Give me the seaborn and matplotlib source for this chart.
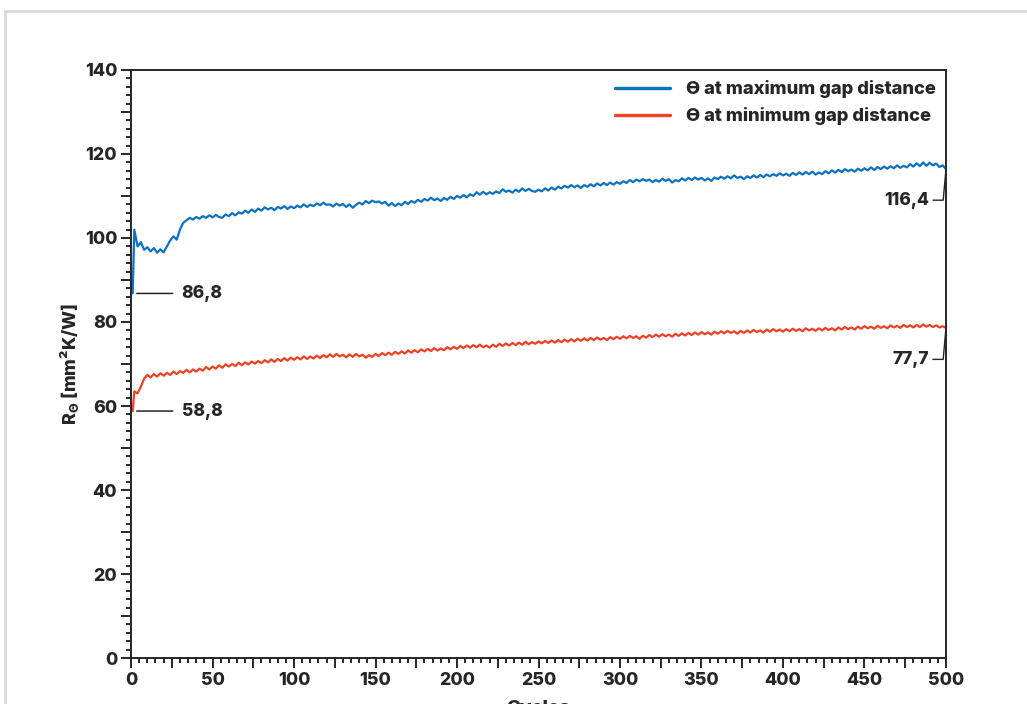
import numpy as np
import pandas as pd
import seaborn as sns
import matplotlib.pyplot as plt
from matplotlib.ticker import MultipleLocator, FuncFormatter
from matplotlib.patches import Rectangle

# cycle numbers: first sample at cycle 1, then every 2 cycles
cycles = [1] + list(range(2, 501, 2))

# thermal resistance at maximum gap distance (mm²K/W)
r_max_gap = [
    86.8,
    102.0, 98.0, 99.0, 97.2, 97.8, 96.8, 97.6, 96.5, 97.3, 96.6,
    98.0, 99.4, 100.4, 99.6, 102.0, 103.6, 104.2, 104.8, 104.4, 105.0,
    104.6, 105.2, 104.8, 105.4, 104.9, 105.5, 105.0, 104.8, 105.6, 105.2,
    105.9, 105.4, 106.1, 105.8, 106.5, 106.0, 106.8, 106.2, 107.0, 106.5,
    107.3, 106.8, 107.2, 106.6, 107.4, 107.0, 107.6, 106.9, 107.5, 107.1,
    107.7, 107.3, 108.0, 107.4, 107.9, 107.6, 108.2, 107.8, 108.4, 107.9,
    108.0, 107.5, 108.2, 107.7, 108.1, 107.4, 108.0, 107.2, 107.9, 108.4,
    108.0, 108.8, 108.3, 108.9, 108.5, 108.7, 108.2, 108.6, 107.7, 108.3,
    107.6, 108.2, 107.8, 108.6, 108.1, 108.8, 108.4, 109.1, 108.6, 109.3,
    108.9, 109.6, 109.0, 109.4, 108.8, 109.5, 109.1, 109.8, 109.3, 110.0,
    109.6, 110.2, 109.7, 110.4, 110.0, 110.9, 110.3, 111.0, 110.4, 110.9,
    110.5, 111.1, 110.7, 111.6, 111.0, 111.3, 110.8, 111.5, 111.0, 111.8,
    111.2, 111.7, 111.2, 111.0, 111.5, 111.1, 111.8, 111.3, 112.0, 111.5,
    112.2, 111.8, 112.4, 112.0, 112.6, 112.1, 112.5, 111.9, 112.6, 112.2,
    112.8, 112.3, 113.0, 112.5, 113.1, 112.6, 113.2, 112.7, 113.3, 112.9,
    113.5, 113.1, 113.8, 113.3, 113.9, 113.5, 114.0, 113.6, 113.9, 113.3,
    113.8, 113.4, 114.1, 113.6, 114.0, 113.2, 113.8, 113.5, 114.2, 113.7,
    114.3, 113.8, 114.4, 113.9, 114.3, 113.7, 114.2, 113.6, 114.4, 114.0,
    114.6, 114.1, 114.7, 114.2, 114.9, 114.3, 114.6, 114.0, 114.7, 114.3,
    114.9, 114.4, 115.0, 114.5, 115.1, 114.7, 115.2, 114.8, 115.4, 114.9,
    115.3, 114.8, 115.5, 115.0, 115.6, 115.1, 115.7, 115.2, 115.8, 115.1,
    115.6, 115.2, 115.9, 115.4, 116.1, 115.6, 116.2, 115.7, 116.4, 115.9,
    116.3, 115.8, 116.5, 116.0, 116.6, 116.1, 116.8, 116.2, 116.9, 116.4,
    117.0, 116.5, 117.1, 116.6, 117.3, 116.7, 117.2, 116.8, 117.6, 117.0,
    117.8, 117.1, 118.0, 117.2, 117.9, 117.3, 117.7, 116.9, 117.3, 116.4,
]

# thermal resistance at minimum gap distance (mm²K/W)
r_min_gap = [
    58.8,
    63.5, 63.0, 64.6, 66.5, 67.4, 66.8, 67.6, 67.0, 67.8, 67.2,
    67.9, 67.4, 68.2, 67.6, 68.3, 67.9, 68.6, 68.0, 68.7, 68.2,
    68.9, 68.4, 69.3, 68.7, 69.4, 68.9, 69.7, 69.1, 69.9, 69.4,
    70.0, 69.5, 70.3, 69.7, 70.4, 69.9, 70.6, 70.1, 70.7, 70.2,
    70.9, 70.4, 71.1, 70.5, 71.2, 70.7, 71.4, 70.8, 71.5, 71.0,
    71.6, 71.1, 71.8, 71.2, 71.8, 71.3, 72.0, 71.4, 72.1, 71.6,
    72.3, 71.7, 72.4, 71.8, 72.2, 71.6, 72.3, 71.7, 72.4, 71.8,
    72.2, 71.5, 72.1, 71.7, 72.4, 71.9, 72.6, 72.1, 72.7, 72.2,
    72.9, 72.4, 73.0, 72.5, 73.2, 72.7, 73.3, 72.8, 73.5, 73.0,
    73.6, 73.1, 73.8, 73.2, 73.7, 73.3, 74.0, 73.5, 74.1, 73.6,
    74.3, 73.8, 74.4, 73.9, 74.5, 74.0, 74.6, 74.0, 74.4, 73.9,
    74.6, 74.1, 74.8, 74.3, 74.9, 74.4, 75.0, 74.5, 75.1, 74.6,
    75.3, 74.7, 75.2, 74.8, 75.4, 74.9, 75.5, 75.0, 75.6, 75.1,
    75.7, 75.2, 75.8, 75.3, 75.9, 75.4, 76.0, 75.5, 76.1, 75.6,
    76.2, 75.7, 76.3, 75.8, 76.2, 75.7, 76.4, 75.9, 76.5, 76.0,
    76.6, 76.1, 76.7, 76.2, 76.6, 76.0, 76.7, 76.3, 76.9, 76.4,
    77.0, 76.5, 77.1, 76.6, 77.0, 76.5, 77.2, 76.7, 77.3, 76.8,
    77.4, 76.9, 77.5, 77.0, 77.6, 77.1, 77.5, 77.0, 77.7, 77.2,
    77.8, 77.3, 77.9, 77.4, 77.8, 77.2, 77.9, 77.4, 78.0, 77.5,
    78.1, 77.6, 78.0, 77.5, 78.2, 77.7, 78.3, 77.8, 78.2, 77.7,
    78.3, 77.8, 78.4, 77.9, 78.3, 77.8, 78.5, 78.0, 78.4, 77.9,
    78.5, 78.0, 78.6, 78.1, 78.5, 78.0, 78.7, 78.2, 78.8, 78.3,
    78.7, 78.2, 78.9, 78.4, 79.0, 78.5, 78.9, 78.4, 79.1, 78.6,
    79.0, 78.5, 79.2, 78.7, 79.1, 78.6, 79.3, 78.8, 79.2, 78.7,
    79.3, 78.8, 79.4, 78.9, 79.3, 78.8, 79.2, 78.7, 79.0, 78.6,
]

series_names = ["ϴ at maximum gap distance", "ϴ at minimum gap distance"]
colors = ["#0b72bf", "#ee4124"]

# (cycle, value, label) for start / end callouts
start_labels = [(1, 86.8, "86,8"), (1, 58.8, "58,8")]
end_labels = [(500, 116.4, "116,4", 109.0), (500, 78.6, "77,7", 71.1)]

sns.set_style("ticks")
plt.rcParams["font.family"] = ["Inter", "DejaVu Sans"]
plt.rcParams["font.weight"] = "heavy"
plt.rcParams["axes.labelweight"] = "heavy"
plt.rcParams["mathtext.fontset"] = "custom"
plt.rcParams["mathtext.rm"] = "Inter:heavy"
plt.rcParams["mathtext.bf"] = "Inter:heavy"

df = pd.DataFrame({
    "Cycles": cycles * 2,
    "R": r_max_gap + r_min_gap,
    "series": [series_names[0]] * len(cycles) + [series_names[1]] * len(cycles),
})

fig = plt.figure(figsize=(10.27, 7.04), dpi=100)
ax = fig.add_axes([0.1276, 0.0653, 0.7935, 0.8353])

sns.lineplot(data=df, x="Cycles", y="R", hue="series", palette=colors,
             linewidth=1.6, ax=ax, legend=False)

ax.set_xlim(0, 500)
ax.set_ylim(0, 140)

dark = "#262626"
for side in ["left", "right", "top", "bottom"]:
    ax.spines[side].set_visible(True)
    ax.spines[side].set_color(dark)
    ax.spines[side].set_linewidth(1.4)

ax.xaxis.set_major_locator(MultipleLocator(25))
ax.xaxis.set_minor_locator(MultipleLocator(5))
ax.yaxis.set_major_locator(MultipleLocator(10))
ax.yaxis.set_minor_locator(MultipleLocator(2))
ax.xaxis.set_major_formatter(FuncFormatter(lambda v, p: f"{v:.0f}" if v % 50 == 0 else ""))
ax.yaxis.set_major_formatter(FuncFormatter(lambda v, p: f"{v:.0f}" if v % 20 == 0 else ""))
ax.tick_params(which="major", length=7, width=1.4, color=dark, labelsize=12.8,
               labelcolor=dark, pad=3, direction="out")
ax.tick_params(which="minor", length=3.5, width=1.4, color=dark, direction="out")
for lab in ax.get_xticklabels() + ax.get_yticklabels():
    lab.set_fontweight("heavy")

ax.set_xlabel("Cycles", fontsize=13.5, color=dark, labelpad=8)
ax.set_ylabel(r"R$_{\Theta}$ [mm²K/W]", fontsize=13, color=dark, labelpad=3)

# legend
handles = [plt.Line2D([], [], color=c, lw=2.4) for c in colors]
leg = ax.legend(handles, series_names, loc="upper right", frameon=False,
                fontsize=13.2, handlelength=3.0, handletextpad=0.9,
                borderaxespad=0.15, labelspacing=0.5)
for t in leg.get_texts():
    t.set_color(dark)
    t.set_fontweight("heavy")

# callouts at the start
for x0, y0, txt in start_labels:
    ax.annotate(txt, xy=(x0 + 2.5, y0), xytext=(31, y0), ha="left", va="center",
                fontsize=12.5, fontweight="heavy", color=dark,
                arrowprops=dict(arrowstyle="-", color=dark, lw=1.1,
                                shrinkA=4, shrinkB=0))

# callouts at the end
for x0, y0, txt, ylab in end_labels:
    ax.plot([x0, 498.3, 492.0], [y0, ylab, ylab], color=dark, lw=1.0,
            clip_on=False)
    ax.text(489.5, ylab, txt, ha="right", va="center", fontsize=12.5,
            fontweight="heavy", color=dark)

# light card border around the figure
fig.patches.append(Rectangle((0.005, -0.2), 1.2, 1.184,
                             transform=fig.transFigure, fill=False,
                             edgecolor="#d9d9d9", lw=2))

fig.savefig("out.png", dpi=100)
